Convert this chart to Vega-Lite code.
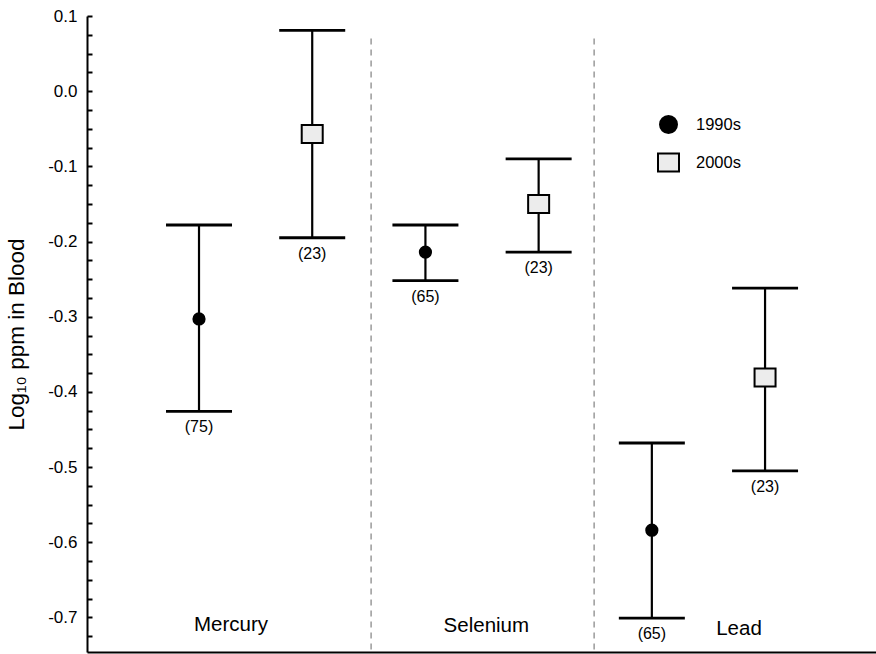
{
  "$schema": "https://vega.github.io/schema/vega-lite/v6.json",
  "width": 789,
  "height": 636,
  "autosize": "none",
  "padding": {"left": 87, "top": 16, "right": 0, "bottom": 2},
  "background": "white",
  "config": {
    "view": {"stroke": null},
    "font": "Liberation Sans",
    "legend": {"symbolStrokeColor": "black", "symbolStrokeWidth": 2},
    "axisX": {"domain": true, "domainColor": "black", "domainWidth": 2, "ticks": false, "labels": false, "grid": false, "title": null},
    "axisY": {
      "domainColor": "black", "domainWidth": 2, "tickColor": "black", "tickWidth": 2, "tickSize": -5,
      "labelFont": "Liberation Sans", "labelFontSize": 17, "labelColor": "black", "labelPadding": 15,
      "grid": false, "titleFont": "Liberation Sans", "titleFontSize": 22.5, "titleFontWeight": "normal", "titleColor": "black", "titlePadding": 19
    }
  },
  "datasets": {
    "stats": [
      {"metal": "Mercury", "period": "1990s", "idx": 1, "mean": -0.303, "lo": -0.426, "hi": -0.178, "nlabel": "(75)"},
      {"metal": "Mercury", "period": "2000s", "idx": 2, "mean": -0.057, "lo": -0.195, "hi": 0.081, "nlabel": "(23)"},
      {"metal": "Selenium", "period": "1990s", "idx": 3, "mean": -0.214, "lo": -0.252, "hi": -0.178, "nlabel": "(65)"},
      {"metal": "Selenium", "period": "2000s", "idx": 4, "mean": -0.150, "lo": -0.214, "hi": -0.090, "nlabel": "(23)"},
      {"metal": "Lead", "period": "1990s", "idx": 5, "mean": -0.584, "lo": -0.701, "hi": -0.468, "nlabel": "(65)"},
      {"metal": "Lead", "period": "2000s", "idx": 6, "mean": -0.381, "lo": -0.505, "hi": -0.262, "nlabel": "(23)"}
    ],
    "seps": [
      {"sep": 2.52, "top": 0.07, "bottom": -0.746},
      {"sep": 4.49, "top": 0.07, "bottom": -0.746}
    ],
    "names": [
      {"name": "Mercury", "lx": 1.283, "ly": -0.718},
      {"name": "Selenium", "lx": 3.538, "ly": -0.7195},
      {"name": "Lead", "lx": 5.77, "ly": -0.7235}
    ]
  },
  "layer": [
    {
      "data": {"name": "seps"},
      "mark": {"type": "rule", "color": "#808080", "strokeWidth": 1.2, "strokeDash": [6, 5]},
      "encoding": {
        "x": {"field": "sep", "type": "quantitative", "scale": {"domain": [0.0106, 6.98], "nice": false, "zero": false}, "title": null},
        "y": {"field": "top", "type": "quantitative", "scale": {"domain": [-0.746, 0.1], "nice": false, "zero": false}, "title": "Log₁₀ ppm in Blood",
          "axis": {
            "tickCount": 100,
            "values": [0.1, 0.075, 0.05, 0.025, 0, -0.025, -0.05, -0.075, -0.1, -0.125, -0.15, -0.175, -0.2, -0.225, -0.25, -0.275, -0.3, -0.325, -0.35, -0.375, -0.4, -0.425, -0.45, -0.475, -0.5, -0.525, -0.55, -0.575, -0.6, -0.625, -0.65, -0.675, -0.7, -0.725],
            "labelExpr": "abs(round(datum.value*40)) % 4 == 0 ? replace(format(datum.value, '.1f'), '−', '-') : ''"
          }
        },
        "y2": {"field": "bottom"}
      }
    },
    {
      "data": {"name": "stats"},
      "mark": {"type": "rule", "color": "black", "strokeWidth": 2.2},
      "encoding": {
        "x": {"field": "idx", "type": "quantitative", "title": null},
        "y": {"field": "lo", "type": "quantitative", "title": "Log₁₀ ppm in Blood"},
        "y2": {"field": "hi"}
      }
    },
    {
      "data": {"name": "stats"},
      "mark": {"type": "tick", "orient": "horizontal", "color": "black", "size": 66, "thickness": 2.8, "opacity": 1},
      "encoding": {
        "x": {"field": "idx", "type": "quantitative", "title": null},
        "y": {"field": "hi", "type": "quantitative", "title": "Log₁₀ ppm in Blood"}
      }
    },
    {
      "data": {"name": "stats"},
      "mark": {"type": "tick", "orient": "horizontal", "color": "black", "size": 66, "thickness": 2.8, "opacity": 1},
      "encoding": {
        "x": {"field": "idx", "type": "quantitative", "title": null},
        "y": {"field": "lo", "type": "quantitative", "title": "Log₁₀ ppm in Blood"}
      }
    },
    {
      "data": {"name": "stats"},
      "transform": [{"filter": "datum.period == '1990s'"}],
      "mark": {"type": "point", "filled": true, "strokeWidth": 1.8, "opacity": 1, "size": 130},
      "encoding": {
        "x": {"field": "idx", "type": "quantitative", "title": null},
        "y": {"field": "mean", "type": "quantitative", "title": "Log₁₀ ppm in Blood"},
        "stroke": {"field": "period", "type": "nominal", "title": null, "scale": {"domain": ["1990s", "2000s"], "range": ["black", "black"]},
          "legend": {"title": null, "orient": "none", "legendX": 572, "legendY": 99, "symbolSize": 289, "symbolStrokeWidth": 2,
            "labelFont": "Liberation Sans", "labelFontSize": 16.5, "labelColor": "black", "labelOffset": 18, "rowPadding": 12}},
        "fill": {"field": "period", "type": "nominal", "title": null, "scale": {"domain": ["1990s", "2000s"], "range": ["black", "#ececec"]},
          "legend": {"title": null, "orient": "none", "legendX": 572, "legendY": 99, "symbolSize": 289, "symbolStrokeWidth": 2,
            "labelFont": "Liberation Sans", "labelFontSize": 16.5, "labelColor": "black", "labelOffset": 18, "rowPadding": 12}},
        "shape": {"field": "period", "type": "nominal", "title": null, "scale": {"domain": ["1990s", "2000s"], "range": ["circle", "M-1.235,-1.06L1.235,-1.06L1.235,1.06L-1.235,1.06Z"]},
          "legend": {"title": null, "orient": "none", "legendX": 572, "legendY": 99, "symbolSize": 289, "symbolStrokeWidth": 2,
            "labelFont": "Liberation Sans", "labelFontSize": 16.5, "labelColor": "black", "labelOffset": 18, "rowPadding": 12}}
      }
    },
    {
      "data": {"name": "stats"},
      "transform": [{"filter": "datum.period == '2000s'"}],
      "mark": {"type": "point", "filled": true, "strokeWidth": 2, "opacity": 1, "size": 289},
      "encoding": {
        "x": {"field": "idx", "type": "quantitative", "title": null},
        "y": {"field": "mean", "type": "quantitative", "title": "Log₁₀ ppm in Blood"},
        "stroke": {"field": "period", "type": "nominal", "title": null},
        "fill": {"field": "period", "type": "nominal", "title": null},
        "shape": {"field": "period", "type": "nominal", "title": null}
      }
    },
    {
      "data": {"name": "stats"},
      "mark": {"type": "text", "font": "Liberation Sans", "fontSize": 16, "color": "black", "baseline": "middle", "dy": 16},
      "encoding": {
        "x": {"field": "idx", "type": "quantitative", "title": null},
        "y": {"field": "lo", "type": "quantitative", "title": "Log₁₀ ppm in Blood"},
        "text": {"field": "nlabel"}
      }
    },
    {
      "data": {"name": "names"},
      "mark": {"type": "text", "font": "Liberation Sans", "fontSize": 20.5, "color": "black", "baseline": "alphabetic", "align": "center"},
      "encoding": {
        "x": {"field": "lx", "type": "quantitative", "title": null},
        "y": {"field": "ly", "type": "quantitative", "title": "Log₁₀ ppm in Blood"},
        "text": {"field": "name"}
      }
    }
  ]
}
